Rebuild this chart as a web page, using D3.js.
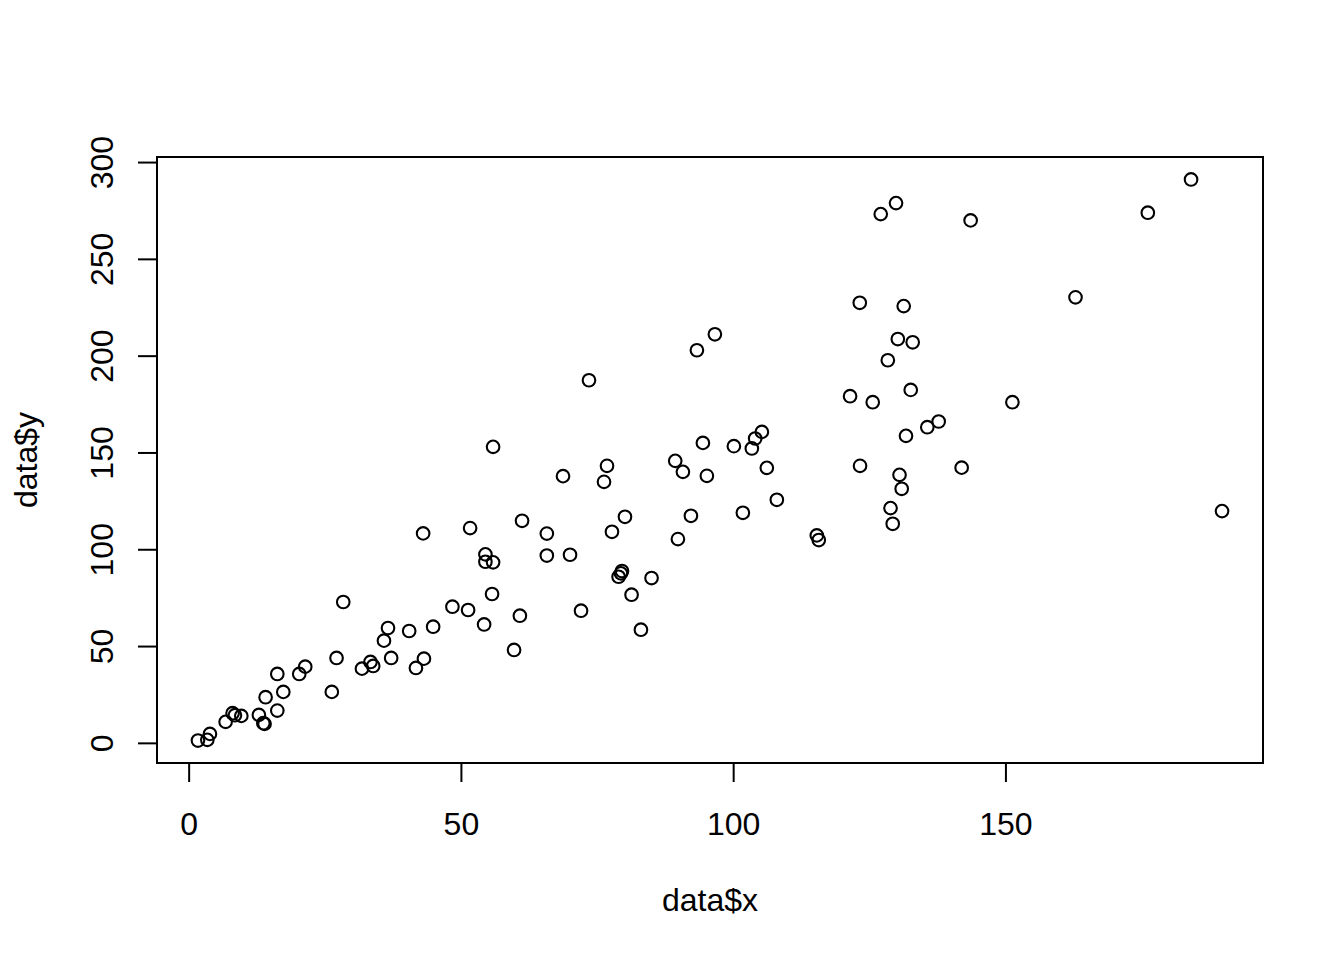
<!DOCTYPE html>
<html>
<head>
<meta charset="utf-8">
<script src="https://cdn.jsdelivr.net/npm/d3@7"></script>
<style>
  html, body { margin: 0; padding: 0; background: #ffffff; }
  svg { display: block; }
  text { font-family: "Liberation Sans", Arial, sans-serif; fill: #000; }
</style>
</head>
<body>
<svg id="chart" width="1344" height="960"></svg>
<script>
// ---- data ----
const xValues = [
  1.71, 3.43, 3.91, 6.79, 8.07, 8.50, 9.67, 12.90, 13.71, 13.94,
  14.13, 16.28, 17.38, 16.28, 20.31, 21.41, 27.16, 26.29, 28.39, 31.83,
  33.39, 33.89, 37.19, 36.61, 35.87, 40.50, 44.90, 43.21, 41.74, 43.06,
  48.44, 51.32, 51.69, 54.26, 54.50, 54.50, 55.91, 55.72, 55.91, 59.76,
  60.83, 61.23, 65.78, 65.78, 70.04, 68.75, 72.06, 73.52, 76.28, 76.83,
  77.74, 80.13, 79.58, 79.39, 78.96, 81.34, 83.06, 85.01, 89.36, 90.77,
  89.85, 92.24, 93.34, 94.44, 95.17, 96.64, 100.13, 101.78, 105.27, 104.04,
  103.43, 106.18, 108.02, 115.36, 115.72, 121.47, 123.25, 123.30, 125.63, 127.10,
  129.91, 128.40, 130.24, 131.32, 132.61, 132.97, 131.74, 135.65, 137.74, 130.55,
  130.95, 128.90, 129.30, 141.96, 143.61, 151.28, 162.87, 176.15, 184.09, 189.78
];
const yValues = [
  1.19, 1.55, 4.64, 10.84, 15.33, 14.29, 13.93, 14.45, 10.17, 9.80,
  23.58, 16.67, 26.32, 35.60, 35.60, 39.37, 43.86, 26.32, 72.76, 38.34,
  41.80, 39.73, 43.86, 59.34, 52.79, 57.79, 60.01, 43.50, 38.70, 108.20,
  70.33, 68.63, 110.94, 61.15, 97.37, 93.55, 93.24, 76.88, 152.89, 47.99,
  65.69, 114.71, 108.10, 96.75, 97.16, 137.77, 68.27, 187.31, 134.83, 143.09,
  109.03, 116.77, 88.75, 87.56, 85.81, 76.52, 58.46, 85.14, 145.67, 139.99,
  105.26, 117.29, 202.79, 154.95, 137.93, 211.04, 153.25, 118.83, 160.63, 157.22,
  152.06, 142.05, 125.54, 107.17, 104.75, 179.05, 227.30, 143.09, 175.95, 273.12,
  278.79, 197.63, 208.57, 225.59, 182.30, 206.91, 158.57, 163.05, 166.00, 138.44,
  131.22, 121.26, 113.16, 142.16, 269.87, 175.95, 230.13, 273.84, 291.02, 119.71
];
const xTicks = [0, 50, 100, 150];
const yTicks = [0, 50, 100, 150, 200, 250, 300];
const xLabel = "data$x";
const yLabel = "data$y";

// ---- layout ----
const W = 1344, H = 960;
const box = { left: 157, right: 1263, top: 157, bottom: 763 };
const tickLen = 19;
const fontSize = 32;

const points = xValues.map((x, i) => ({ x, y: yValues[i] }));

// R-style 4% range expansion
function rDomain(vals) {
  const [lo, hi] = d3.extent(vals);
  const pad = (hi - lo) * 0.04;
  return [lo - pad, hi + pad];
}

const x = d3.scaleLinear().domain(rDomain(xValues)).range([box.left, box.right]);
const y = d3.scaleLinear().domain(rDomain(yValues)).range([box.bottom, box.top]);

const svg = d3.select("#chart");
svg.append("rect").attr("width", W).attr("height", H).attr("fill", "#fff");

// points
svg.append("g")
  .selectAll("circle")
  .data(points)
  .join("circle")
  .attr("cx", d => x(d.x))
  .attr("cy", d => y(d.y))
  .attr("r", 6.3)
  .attr("fill", "none")
  .attr("stroke", "#000")
  .attr("stroke-width", 2.1);

// x axis
const xAxis = d3.axisBottom(x).tickValues(xTicks).tickSize(tickLen).tickPadding(0).tickFormat(d3.format("d"));
const gx = svg.append("g").attr("transform", `translate(0,${box.bottom})`).call(xAxis);
gx.select(".domain").attr("stroke", "#000").attr("stroke-width", 2)
  .attr("d", `M${x(xTicks[0])},0H${x(xTicks[xTicks.length - 1])}`);
gx.selectAll(".tick line").attr("stroke", "#000").attr("stroke-width", 2);
gx.selectAll(".tick text")
  .attr("y", 0).attr("dy", null)
  .attr("transform", "translate(0,71.5)")
  .style("font-size", fontSize + "px")
  .style("font-family", '"Liberation Sans", Arial, sans-serif')
  .attr("fill", "#000")
  .attr("text-anchor", "middle");

// y axis
const yAxis = d3.axisLeft(y).tickValues(yTicks).tickSize(tickLen).tickPadding(0).tickFormat(d3.format("d"));
const gy = svg.append("g").attr("transform", `translate(${box.left},0)`).call(yAxis);
gy.select(".domain").attr("stroke", "#000").attr("stroke-width", 2)
  .attr("d", `M0,${y(yTicks[0])}V${y(yTicks[yTicks.length - 1])}`);
gy.selectAll(".tick line").attr("stroke", "#000").attr("stroke-width", 2);
gy.selectAll(".tick text")
  .attr("x", 0).attr("dy", null)
  .attr("transform", `translate(${112.5 - box.left},0) rotate(-90)`)
  .style("font-size", fontSize + "px")
  .style("font-family", '"Liberation Sans", Arial, sans-serif')
  .attr("fill", "#000")
  .attr("text-anchor", "middle");

// box
svg.append("rect")
  .attr("x", box.left).attr("y", box.top)
  .attr("width", box.right - box.left).attr("height", box.bottom - box.top)
  .attr("fill", "none").attr("stroke", "#000").attr("stroke-width", 2);

// axis titles
svg.append("text")
  .attr("x", (box.left + box.right) / 2).attr("y", 911)
  .attr("text-anchor", "middle")
  .style("font-size", fontSize + "px")
  .text(xLabel);

svg.append("text")
  .attr("transform", `translate(37,${(box.top + box.bottom) / 2}) rotate(-90)`)
  .attr("text-anchor", "middle")
  .style("font-size", fontSize + "px")
  .text(yLabel);
</script>
</body>
</html>
